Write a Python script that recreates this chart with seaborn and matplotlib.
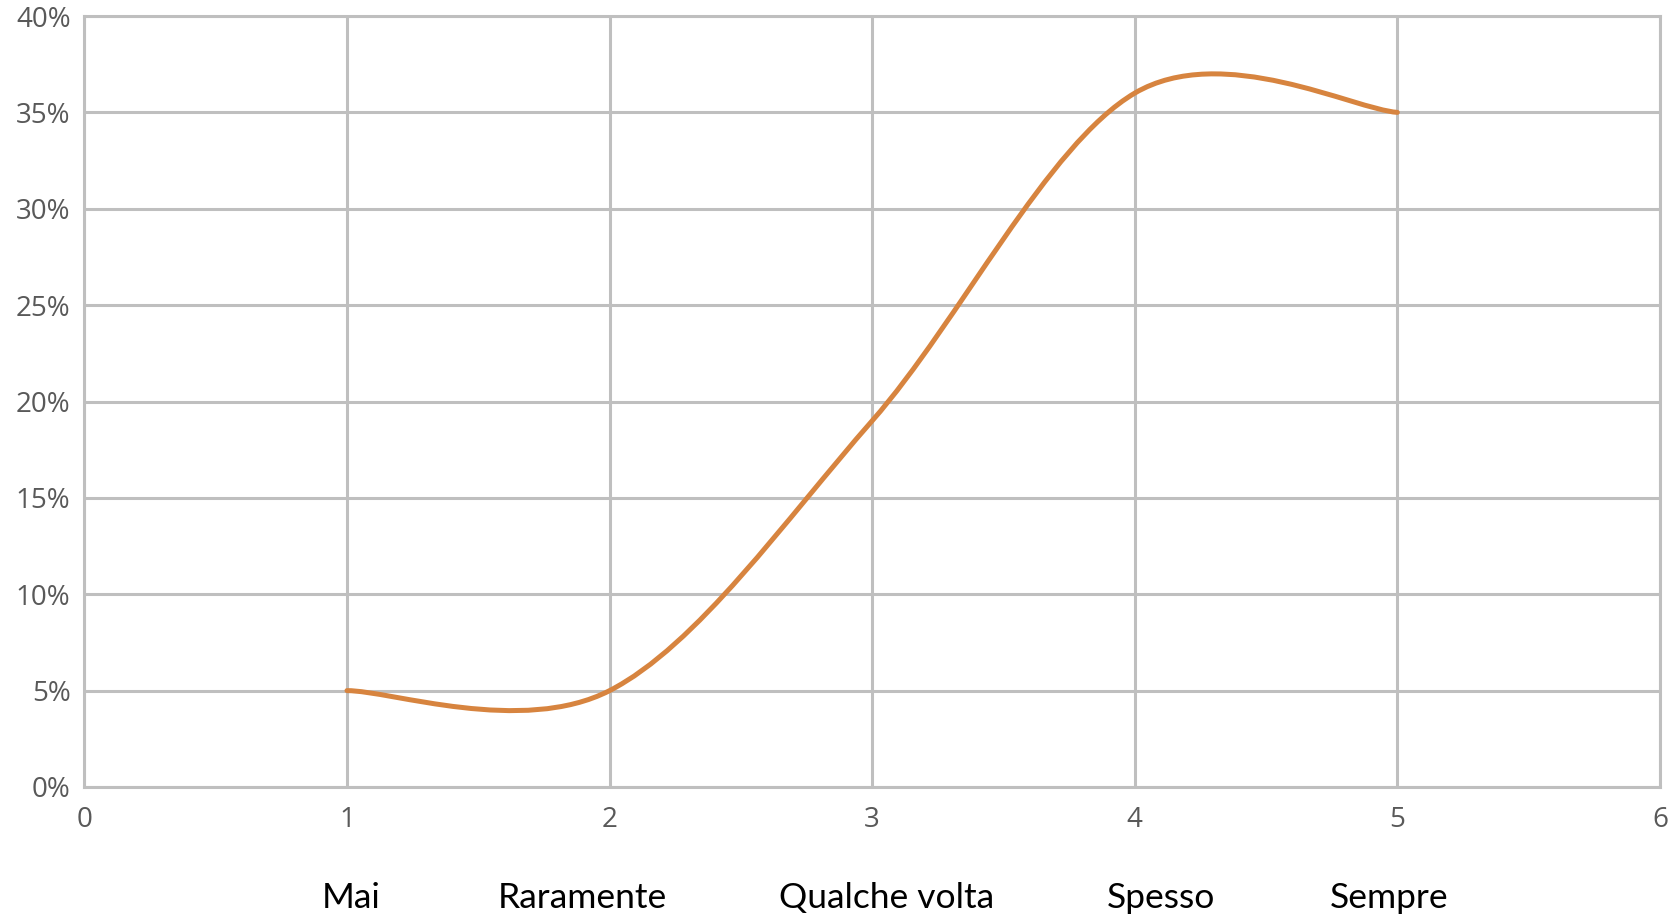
import matplotlib
matplotlib.use("Agg")
import matplotlib.pyplot as plt
import matplotlib.transforms as mtransforms
from matplotlib.path import Path
from matplotlib.patches import PathPatch
from matplotlib.ticker import MultipleLocator, PercentFormatter
import numpy as np
import seaborn as sns

# Frequency scale (1 = Mai ... 5 = Sempre) and share of answers
scale = [1, 2, 3, 4, 5]
share = [0.05, 0.05, 0.19, 0.36, 0.35]
categories = ["Mai", "Raramente", "Qualche volta", "Spesso", "Sempre"]

# Horizontal placement of the category captions under the axis (data units)
caption_x = [1.017, 1.895, 3.055, 4.10, 4.968]

sns.set_theme(style="whitegrid")
plt.rcParams["font.family"] = ["Open Sans", "DejaVu Sans"]

GRID = "#BFBFBF"
TICK = "#595959"
LINE = "#D7843F"

fig = plt.figure(figsize=(16.75, 9.15), dpi=100)
ax = fig.add_axes([0.0504, 0.1399, 0.9406, 0.8426])
ax.set_facecolor("white")


def smooth_path(xs, ys, tension=1 / 6):
    """Cubic Bezier path through the points, Catmull-Rom style tangents."""
    pts = np.column_stack([xs, ys]).astype(float)
    n = len(pts)
    verts = [tuple(pts[0])]
    codes = [Path.MOVETO]
    for i in range(n - 1):
        p_prev = pts[i - 1] if i > 0 else pts[i]
        p0, p1 = pts[i], pts[i + 1]
        p_next = pts[i + 2] if i + 2 < n else pts[i + 1]
        c1 = p0 + (p1 - p_prev) * tension
        c2 = p1 - (p_next - p0) * tension
        verts += [tuple(c1), tuple(c2), tuple(p1)]
        codes += [Path.CURVE4] * 3
    return Path(verts, codes)


curve = PathPatch(smooth_path(scale, share), facecolor="none", edgecolor=LINE,
                  lw=3.6, capstyle="round", joinstyle="round", zorder=3)
ax.add_patch(curve)

ax.set_xlim(0, 6)
ax.set_ylim(0, 0.40)
ax.xaxis.set_major_locator(MultipleLocator(1))
ax.yaxis.set_major_locator(MultipleLocator(0.05))
ax.yaxis.set_major_formatter(PercentFormatter(1, decimals=0))

ax.grid(True, color=GRID, lw=2.2)
for side in ax.spines.values():
    side.set_visible(True)
    side.set_color(GRID)
    side.set_linewidth(2.2)

ax.tick_params(axis="both", length=0, labelsize=20, labelcolor=TICK)
ax.tick_params(axis="x", pad=14)
ax.tick_params(axis="y", pad=10)
ax.set_xlabel("")
ax.set_ylabel("")

# Category captions below the numeric axis
trans = mtransforms.blended_transform_factory(ax.transData, fig.transFigure)
for xpos, label in zip(caption_x, categories):
    ax.text(xpos, 0.0075, label, transform=trans, ha="center", va="baseline",
            fontsize=25.5, color="black", family=["Lato", "DejaVu Sans"])

fig.savefig("out.png", dpi=100, facecolor="white")
